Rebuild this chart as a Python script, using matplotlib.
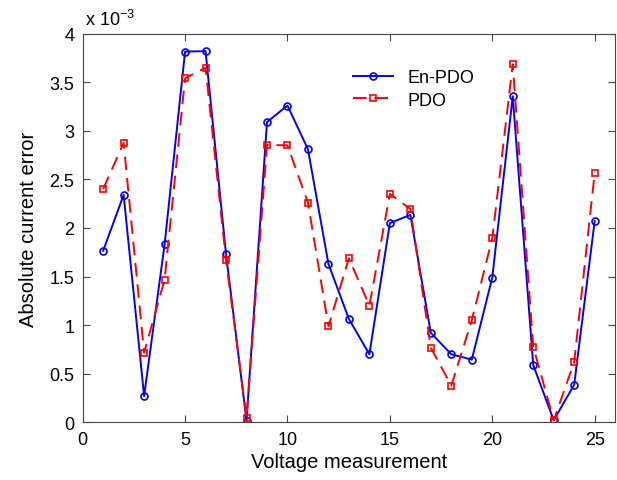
import matplotlib
matplotlib.use("Agg")
import matplotlib.pyplot as plt
import numpy as np

plt.rcParams['font.family'] = ['Liberation Sans', 'DejaVu Sans']

# measurement index
meas = np.arange(1, 26)

# absolute current error, in units of 1e-3
en_pdo = [1.766, 2.34, 0.27, 1.83, 3.815, 3.82, 1.73, 0.017, 3.09, 3.26,
          2.81, 1.63, 1.063, 0.70, 2.05, 2.134, 0.92, 0.70, 0.645, 1.49,
          3.355, 0.59, 0.02, 0.387, 2.07]
pdo = [2.40, 2.875, 0.717, 1.468, 3.54, 3.65, 1.667, 0.048, 2.855, 2.85,
       2.26, 0.988, 1.688, 1.20, 2.35, 2.195, 0.768, 0.377, 1.05, 1.894,
       3.685, 0.778, 0.02, 0.62, 2.566]

fig = plt.figure(figsize=(6.17, 4.81), dpi=100)
ax = fig.add_axes([0.134, 0.12, 0.863, 0.808])

ax.plot(meas, en_pdo, '-o', color='#0000ff', lw=1.4, ms=5,
        mfc='none', mew=1.2, label='En-PDO')
ax.plot(meas, pdo, '--s', color='#ff0000', lw=1.4, ms=4.3, mfc='none',
        mew=1.2, dashes=(7, 4), label='PDO')

ax.set_xlim(0, 26)
ax.set_ylim(0, 4)
ax.set_xticks([0, 5, 10, 15, 20, 25])
ax.set_yticks([0, 0.5, 1, 1.5, 2, 2.5, 3, 3.5, 4])
ax.set_yticklabels(['0', '0.5', '1', '1.5', '2', '2.5', '3', '3.5', '4'])
ax.tick_params(direction='in', top=True, right=True, length=5,
               labelsize=13, color='#444444', pad=6)
for s in ax.spines.values():
    s.set_color('#444444')

ax.set_xlabel('Voltage measurement', fontsize=14.5, labelpad=3)
ax.set_ylabel('Absolute current error', fontsize=14.5, labelpad=8)
ax.text(0.005, 1.012, r'x 10$^{\mathregular{-3}}$', transform=ax.transAxes,
        fontsize=13, ha='left', va='bottom')

ax.legend(loc='upper left', bbox_to_anchor=(0.478, 0.95), frameon=False,
          fontsize=13, handlelength=2.2, labelspacing=0.3)

fig.savefig('out.png', dpi=100)
